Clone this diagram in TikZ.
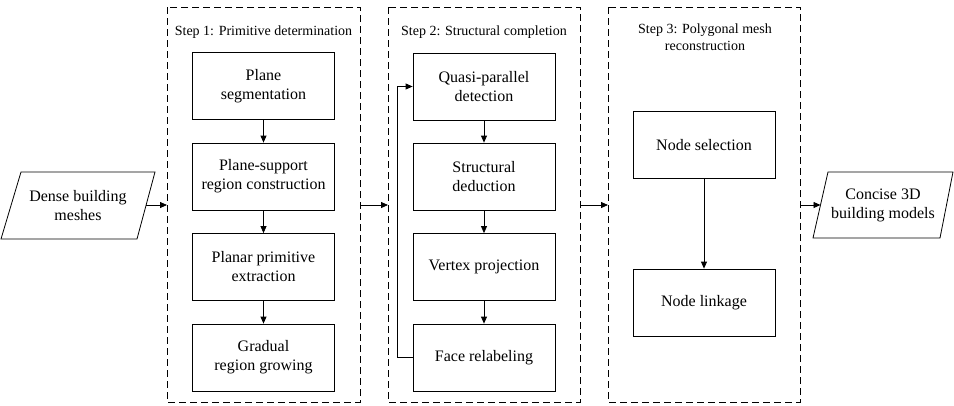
\documentclass[tikz,border=0pt]{standalone}
\usepackage{fontspec}
\setmainfont{Liberation Serif}
\usetikzlibrary{arrows.meta}
\begin{document}
\begin{tikzpicture}[x=1pt,y=-1pt,
  box/.style={draw,line width=0.8pt,minimum width=142pt,minimum height=67pt,align=center,inner sep=1pt,font=\fontsize{16}{19}\selectfont},
  frame/.style={draw,line width=0.9pt,dash pattern=on 7pt off 4pt},
  ttl/.style={align=center,inner sep=0pt,font=\fontsize{14}{17}\selectfont},
  iotext/.style={align=center,inner sep=0pt,font=\fontsize{16}{19}\selectfont},
  arr/.style={line width=0.8pt,-{Triangle[length=7pt,width=6pt]}},
  ln/.style={line width=0.8pt}]
\useasboundingbox (0,0) rectangle (954,405);
% frames
\draw[frame] (167,7) rectangle (360,402);
\draw[frame] (388,7) rectangle (580,402);
\draw[frame] (608,7) rectangle (800,402);
\coordinate (f1w) at (167,205);
\coordinate (f1e) at (360,205);
\coordinate (f2w) at (388,205);
\coordinate (f2e) at (580,205);
\coordinate (f3w) at (608,205);
\coordinate (f3e) at (800,205);
% titles
\node[ttl] (t1) at (263.5,32) {Step 1: Primitive determination};
\node[ttl] (t2) at (484,32) {Step 2: Structural completion};
\node[ttl] (t3) at (705,37) {Step 3: Polygonal mesh\\reconstruction};
% input
\node[iotext] (in) at (78,205.5) {Dense building\\meshes};
\draw[ln] (21,172) -- (155,172) -- (137,239) -- (1,239) -- cycle;
\coordinate (inR) at (146,205);
% output
\node[iotext] (out) at (883,205) {Concise 3D\\building models};
\draw[ln] (828,172) -- (953,172) -- (940,238) -- (813,238) -- cycle;
\coordinate (outL) at (820.5,205);
% step 1
\node[box] (a1) at (263.5,86) {Plane\\segmentation};
\node[box] (a2) at (263.5,176.5) {Plane-support\\region construction};
\node[box] (a3) at (263.5,267) {Planar primitive\\extraction};
\node[box] (a4) at (263.5,357.5) {Gradual\\region growing};
% step 2
\node[box] (b1) at (484,86.5) {Quasi-parallel\\detection};
\node[box] (b2) at (484,176.5) {Structural\\deduction};
\node[box] (b3) at (484,267) {Vertex projection};
\node[box] (b4) at (484,357.5) {Face relabeling};
% step 3
\node[box] (c1) at (704,145) {Node selection};
\node[box] (c2) at (704,302.5) {Node linkage};
% connectors
\draw[arr] (a1) -- (a2);
\draw[arr] (a2) -- (a3);
\draw[arr] (a3) -- (a4);
\draw[arr] (b1) -- (b2);
\draw[arr] (b2) -- (b3);
\draw[arr] (b3) -- (b4);
\draw[arr] (b4.west) -- ++(-15,0) |- (b1.west);
\draw[arr] (c1) -- (c2);
\draw[arr] (inR) -- (f1w);
\draw[arr] (f1e) -- (f2w);
\draw[arr] (f2e) -- (f3w);
\draw[arr] (f3e) -- (outL);
\end{tikzpicture}
\end{document}
